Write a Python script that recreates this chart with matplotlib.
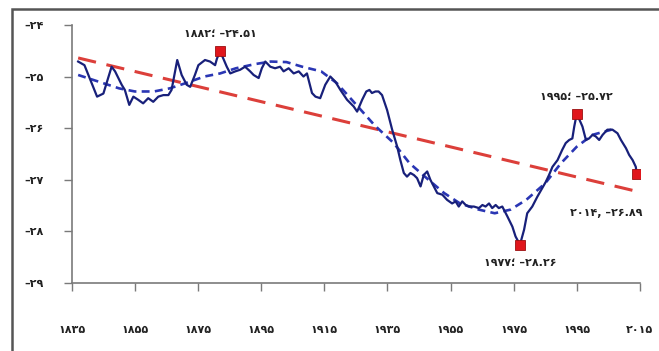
import numpy as np
import matplotlib as mpl
import matplotlib.pyplot as plt
from matplotlib.patches import Rectangle

mpl.rcParams['font.family'] = ['DejaVu Sans']

###############################################################################
# Data

years = [1837, 1839, 1843, 1845, 1847.6, 1848.7, 1850.8, 1851.8, 1853.2, 1854.5,
         1856, 1857.6, 1859.2, 1860.8, 1862.4, 1864, 1865.6, 1866.6, 1868.4, 1869.8,
         1871.4, 1872.5, 1874, 1875.1, 1877.2, 1878.8, 1880.4, 1881, 1882, 1884.1,
         1885.2, 1886.8, 1888.3, 1889.9, 1891.5, 1892.6, 1894.2, 1895.2, 1896.3, 1897.9,
         1899.4, 1901, 1902.1, 1903.7, 1905.3, 1906.9, 1908.4, 1909.5, 1911.1, 1912.2,
         1913.7, 1915.3, 1916.9, 1918.5, 1920.1, 1922.2, 1924.3, 1925.4, 1927, 1928.3,
         1929.3, 1930.1, 1931.2, 1932.2, 1933.3, 1934.9, 1936.5, 1938.1, 1939.1, 1940.2,
         1941.2, 1942.3, 1943.4, 1944.4, 1945.5, 1946.5, 1947.6, 1948.6, 1949.7, 1950.8,
         1952.4, 1953.9, 1955.5, 1956.6, 1957.6, 1958.7, 1959.8, 1960.8, 1962.4, 1964,
         1965.1, 1966.1, 1967.2, 1968.2, 1969.3, 1970.3, 1971.4, 1973, 1974.6, 1975.6,
         1977, 1978.3, 1979.3, 1980.9, 1982.5, 1984.1, 1985.2, 1986.2, 1987.3, 1988.9,
         1990.4, 1991.5, 1992.6, 1993.6, 1994.2, 1995, 1996.8, 1997.9, 1998.9, 2000,
         2001, 2002.1, 2003.2, 2004.7, 2006.3, 2007.9, 2009, 2010.6, 2011.6, 2012.7,
         2013.7, 2014]
values = [-24.71, -24.78, -25.39, -25.33, -24.81, -24.90, -25.16, -25.26, -25.55, -25.39,
          -25.45, -25.52, -25.42, -25.49, -25.39, -25.36, -25.36, -25.26, -24.68, -24.97,
          -25.16, -25.20, -24.97, -24.78, -24.68, -24.71, -24.78, -24.65, -24.51, -24.81,
          -24.94, -24.90, -24.87, -24.81, -24.90, -24.97, -25.03, -24.84, -24.71, -24.81,
          -24.84, -24.81, -24.90, -24.84, -24.94, -24.90, -25.00, -24.94, -25.32, -25.39,
          -25.42, -25.16, -25.00, -25.10, -25.26, -25.45, -25.58, -25.68, -25.45, -25.29,
          -25.26, -25.32, -25.29, -25.29, -25.36, -25.65, -26.03, -26.36, -26.62, -26.87,
          -26.94, -26.87, -26.91, -26.97, -27.13, -26.91, -26.84, -27.00, -27.13, -27.26,
          -27.29, -27.39, -27.46, -27.42, -27.52, -27.42, -27.49, -27.52, -27.52, -27.55,
          -27.49, -27.52, -27.46, -27.55, -27.49, -27.55, -27.52, -27.71, -27.91, -28.10,
          -28.26, -27.97, -27.65, -27.52, -27.33, -27.16, -27.04, -26.91, -26.75, -26.62,
          -26.42, -26.29, -26.23, -26.20, -25.97, -25.72, -25.97, -26.23, -26.20, -26.13,
          -26.16, -26.23, -26.13, -26.03, -26.03, -26.10, -26.23, -26.39, -26.52, -26.62,
          -26.75, -26.89]

# smoothed curve (blue dashed)
smooth_years = [1837, 1845, 1850, 1855, 1861, 1866, 1871, 1877, 1882, 1887, 1893, 1898,
                1903, 1908, 1914, 1919, 1924, 1931, 1937, 1942, 1948, 1953, 1958, 1964,
                1969, 1974, 1979, 1985, 1990, 1995, 2000, 2006]
smooth_values = [-24.97, -25.13, -25.23, -25.29, -25.29, -25.23, -25.13, -25.00, -24.94,
                 -24.84, -24.76, -24.71, -24.72, -24.81, -24.90, -25.13, -25.47, -25.95,
                 -26.29, -26.68, -27.00, -27.26, -27.46, -27.58, -27.65, -27.58, -27.39,
                 -27.07, -26.68, -26.36, -26.13, -26.03]

# linear trend (red dashed)
trend_years = [1837, 2015]
trend_values = [-24.64, -27.24]

# highlighted points
pt_years = [1882, 1995, 2014, 1977]
pt_values = [-24.51, -25.72, -26.89, -28.26]

x_ticks = [1835, 1855, 1875, 1895, 1915, 1935, 1955, 1975, 1995, 2015]
y_ticks = [-29, -28, -27, -26, -25, -24]

FA = str.maketrans('0123456789', '۰۱۲۳۴۵۶۷۸۹')
def fa(s):
    return str(s).translate(FA)

###############################################################################
# Plot

fig = plt.figure(figsize=(6.59, 3.51), dpi=100)
ax = fig.add_axes([0.109, 0.194, 0.862, 0.735])

ax.plot(trend_years, trend_values, color='#dc3f3a', lw=2.2, dashes=(6, 3.5), zorder=2)
ax.plot(smooth_years, smooth_values, color='#2a36b4', lw=1.9, dashes=(3, 2), zorder=3)
ax.plot(years, values, color='#18207a', lw=1.6, zorder=4)
ax.plot(pt_years, pt_values, 's', ms=7.5, mfc='#e0161c', mec='#9a1010', mew=0.6, zorder=5)

lbl = dict(fontsize=8, fontweight='bold', color='#222222')
ax.text(1882, -24.17, fa('1882') + '؛ –' + fa('24.51'), ha='center', va='center', **lbl)
ax.text(1995, -25.4, fa('1995') + '؛ –' + fa('25.72'), ha='center', va='center', **lbl)
ax.text(1993, -27.64, fa('2014') + ', –' + fa('26.89'), ha='left', va='center',
        clip_on=False, **lbl)
ax.text(1977, -28.62, fa('1977') + '؛ –' + fa('28.26'), ha='center', va='center', **lbl)

ax.set_xlim(1835, 2015)
ax.set_ylim(-29, -24)
ax.set_xticks(x_ticks)
ax.set_xticklabels([fa(x) for x in x_ticks])
ax.set_yticks(y_ticks)
ax.set_yticklabels(['–' + fa(-y) for y in y_ticks])

grey = '#7a7a7a'
for s in ['top', 'right']:
    ax.spines[s].set_visible(False)
for s in ['left', 'bottom']:
    ax.spines[s].set_color(grey)
    ax.spines[s].set_linewidth(1.2)
ax.tick_params(axis='both', colors=grey, length=6, width=1.0, labelcolor='#222222',
               labelsize=8)
ax.tick_params(axis='x', pad=24)
ax.tick_params(axis='y', pad=14)
for t in ax.get_xticklabels() + ax.get_yticklabels():
    t.set_fontweight('bold')

# outer frame
fig.add_artist(Rectangle((12 / 659, -0.1), 1.2, 1.1 - 9 / 351, transform=fig.transFigure,
                         fill=False, ec='#555555', lw=1.8, clip_on=False))

fig.savefig('out.png', dpi=100)
